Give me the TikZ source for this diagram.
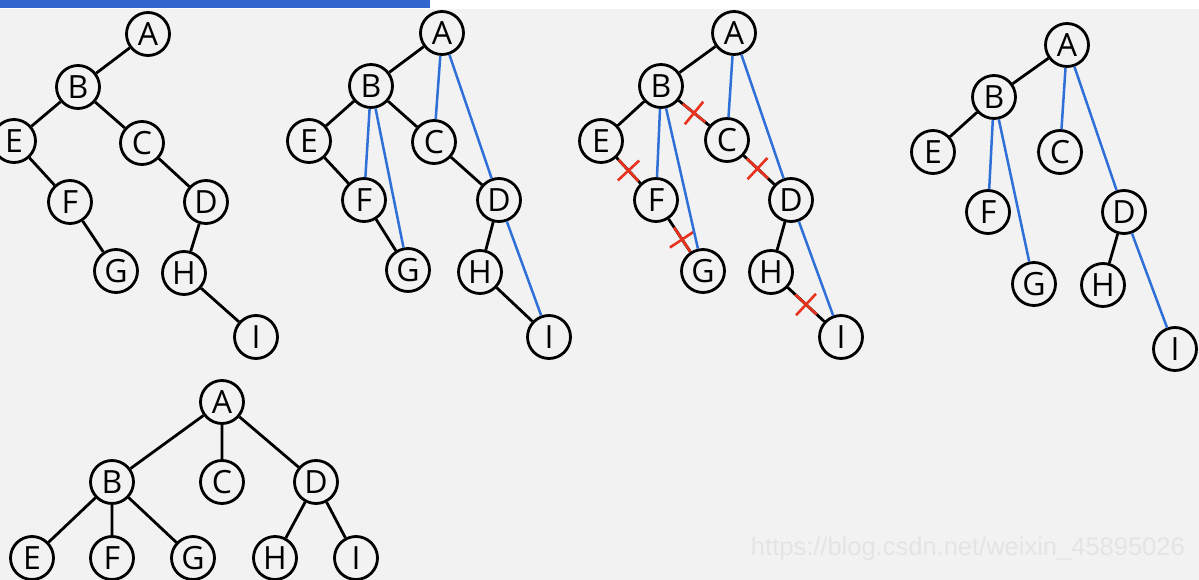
\documentclass[tikz,border=0pt]{standalone}
\usepackage{fontspec}
\setmainfont{Open Sans}
\newfontfamily\wmfont{Liberation Sans}
\usetikzlibrary{shapes.misc}
\definecolor{bg}{HTML}{F2F2F2}
\definecolor{bar}{HTML}{3366CC}
\definecolor{bl}{HTML}{2E6FD8}
\definecolor{rd}{HTML}{E8321E}
\definecolor{wm}{HTML}{E4E4E4}
\tikzset{
  tn/.style={circle,draw=black,line width=2.8pt,fill=bg,minimum size=43pt,inner sep=0pt,font=\fontsize{32}{32}\selectfont},
  ed/.style={line width=2.8pt,black},
  be/.style={line width=2.5pt,bl},
  cutmark/.style={cross out,draw=rd,line width=2.6pt,minimum size=18pt,inner sep=0pt,sloped,rotate=45,pos=#1},
}
\begin{document}
\begin{tikzpicture}[x=1pt,y=-1pt]
\fill[bg] (0,0) rectangle (1199,580);
\useasboundingbox (0,0) rectangle (1199,580);
\fill[white] (0,0) rectangle (1199,9);
\fill[bar] (0,0) rectangle (430,8);
% Tree 1
\node[tn] (a1) at (148,34) {A};
\node[tn] (b1) at (78,87) {B};
\node[tn] (e1) at (14,141) {E};
\node[tn] (c1) at (142,143) {C};
\node[tn] (f1) at (70,202) {F};
\node[tn] (d1) at (206,202) {D};
\node[tn] (g1) at (116,271) {G};
\node[tn] (h1) at (184,273) {H};
\node[tn] (i1) at (256,337) {I};
\draw[ed] (a1)--(b1) (b1)--(e1) (b1)--(c1) (e1)--(f1) (f1)--(g1) (c1)--(d1) (d1)--(h1) (h1)--(i1);
% Tree 2
\node[tn] (a2) at (442,33) {A};
\node[tn] (b2) at (371,86) {B};
\node[tn] (e2) at (309,141) {E};
\node[tn] (c2) at (434,142) {C};
\node[tn] (f2) at (364,200) {F};
\node[tn] (d2) at (499,200) {D};
\node[tn] (g2) at (408,270) {G};
\node[tn] (h2) at (480,272) {H};
\node[tn] (i2) at (549,337) {I};
\draw[ed] (a2)--(b2) (b2)--(e2) (b2)--(c2) (e2)--(f2) (f2)--(g2) (c2)--(d2) (d2)--(h2) (h2)--(i2);
\draw[be] (a2)--(c2) (a2)--(d2) (b2)--(f2) (b2)--(g2) (d2)--(i2);
% Tree 3
\node[tn] (a3) at (734,33) {A};
\node[tn] (b3) at (661,86) {B};
\node[tn] (e3) at (601,141) {E};
\node[tn] (c3) at (727,140) {C};
\node[tn] (f3) at (656,200) {F};
\node[tn] (d3) at (791,200) {D};
\node[tn] (g3) at (703,271) {G};
\node[tn] (h3) at (771,272) {H};
\node[tn] (i3) at (841,337) {I};
\draw[ed] (a3)--(b3) (b3)--(e3) (d3)--(h3);
\draw[ed] (b3)--(c3) node[cutmark=0.5]{};
\draw[ed] (e3)--(f3) node[cutmark=0.5]{};
\draw[ed] (f3)--(g3) node[cutmark=0.62]{};
\draw[ed] (c3)--(d3) node[cutmark=0.45]{};
\draw[ed] (h3)--(i3) node[cutmark=0.5]{};
\draw[be] (a3)--(c3) (a3)--(d3) (b3)--(f3) (b3)--(g3) (d3)--(i3);
% Tree 4
\node[tn] (a4) at (1067,45) {A};
\node[tn] (b4) at (994,97) {B};
\node[tn] (e4) at (933,152) {E};
\node[tn] (c4) at (1060,152) {C};
\node[tn] (f4) at (988,212) {F};
\node[tn] (d4) at (1124,212) {D};
\node[tn] (g4) at (1034,284) {G};
\node[tn] (h4) at (1103,285) {H};
\node[tn] (i4) at (1175,349) {I};
\draw[ed] (a4)--(b4) (b4)--(e4) (d4)--(h4);
\draw[be] (a4)--(c4) (a4)--(d4) (b4)--(f4) (b4)--(g4) (d4)--(i4);
% Tree 5
\node[tn] (a5) at (222,402) {A};
\node[tn] (b5) at (112,482) {B};
\node[tn] (c5) at (222,482) {C};
\node[tn] (d5) at (316,482) {D};
\node[tn] (e5) at (32,558) {E};
\node[tn] (f5) at (112,558) {F};
\node[tn] (g5) at (193,558) {G};
\node[tn] (h5) at (275,558) {H};
\node[tn] (i5) at (356,558) {I};
\draw[ed] (a5)--(b5) (a5)--(c5) (a5)--(d5) (b5)--(e5) (b5)--(f5) (b5)--(g5) (d5)--(h5) (d5)--(i5);
% watermark
\node[text=wm,font=\wmfont\fontsize{25.5}{25.5}\selectfont,anchor=east,inner sep=0pt] (wmk) at (1185,549) {https://blog.csdn.net/weixin\_45895026};
\end{tikzpicture}
\end{document}
